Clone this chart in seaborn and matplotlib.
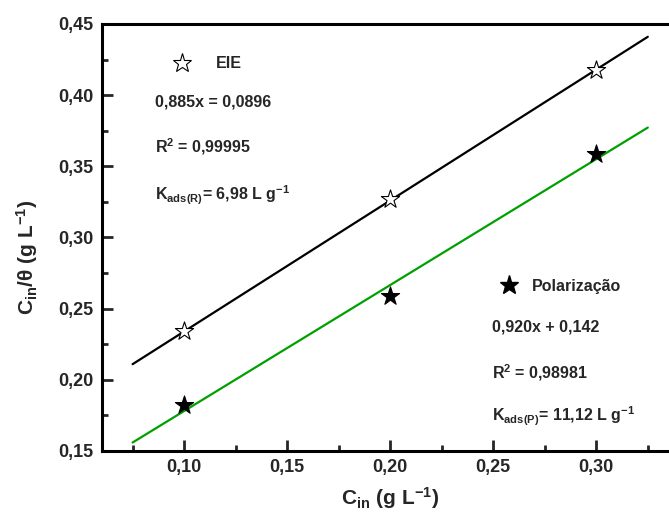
import numpy as np
import pandas as pd
import seaborn as sns
import matplotlib
matplotlib.use("Agg")
import matplotlib.pyplot as plt
from matplotlib.ticker import MultipleLocator, FuncFormatter
from matplotlib.lines import Line2D

# ---- data ----
c_in = [0.10, 0.20, 0.30]
eie_vals = [0.234, 0.327, 0.418]
pol_vals = [0.182, 0.259, 0.359]
fit_x_range = [0.075, 0.325]
eie_fit = (0.920, 0.142)      # slope, intercept (black line)
pol_fit = (0.885, 0.0896)     # slope, intercept (green line)
eie_label = "EIE"
pol_label = "Polarização"
eie_texts = ["0,885x = 0,0896", r"R$^{2}$ = 0,99995", r"K$_{ads(R)}$= 6,98 L g$^{-1}$"]
pol_texts = ["0,920x + 0,142", r"R$^{2}$ = 0,98981", r"K$_{ads(P)}$= 11,12 L g$^{-1}$"]

sns.set_theme(style="ticks")
plt.rcParams['font.family'] = ['Liberation Sans', 'DejaVu Sans']
plt.rcParams['font.weight'] = 'bold'
plt.rcParams['mathtext.fontset'] = 'custom'
plt.rcParams['mathtext.rm'] = 'Liberation Sans:bold'
plt.rcParams['mathtext.bf'] = 'Liberation Sans:bold'
plt.rcParams['mathtext.it'] = 'Liberation Sans:bold'
plt.rcParams['mathtext.sf'] = 'Liberation Sans:bold'
plt.rcParams['mathtext.default'] = 'rm'

W, H = 669, 523
fig = plt.figure(figsize=(W / 100, H / 100), dpi=100)
fig.patch.set_facecolor('white')
ax = fig.add_axes([101.7 / W, (H - 451) / H, (678.7 - 101.7) / W, (451 - 24) / H])
ax.set_facecolor('white')

xs = np.array(fit_x_range)
fit_df = pd.DataFrame({
    'x': np.concatenate([xs, xs]),
    'y': np.concatenate([eie_fit[0] * xs + eie_fit[1], pol_fit[0] * xs + pol_fit[1]]),
    'serie': ['eie'] * 2 + ['pol'] * 2,
})
sns.lineplot(data=fit_df, x='x', y='y', hue='serie', palette={'eie': 'black', 'pol': '#00a000'},
             lw=1.6, legend=False, ax=ax)

eie_df = pd.DataFrame({'x': c_in, 'y': eie_vals})
pol_df = pd.DataFrame({'x': c_in, 'y': pol_vals})
sns.scatterplot(data=eie_df, x='x', y='y', marker='*', s=190, facecolor='white',
                edgecolor='black', linewidth=0.8, ax=ax, zorder=5)
sns.scatterplot(data=pol_df, x='x', y='y', marker='*', s=190, color='black',
                edgecolor='black', linewidth=0.8, ax=ax, zorder=5)

ax.set_xlim(0.06, 0.34)
ax.set_ylim(0.15, 0.45)
ax.xaxis.set_major_locator(MultipleLocator(0.05))
ax.xaxis.set_minor_locator(MultipleLocator(0.025))
ax.yaxis.set_major_locator(MultipleLocator(0.05))
ax.yaxis.set_minor_locator(MultipleLocator(0.025))
fmt = FuncFormatter(lambda v, p: f"{v:.2f}".replace('.', ','))
ax.xaxis.set_major_formatter(fmt)
ax.yaxis.set_major_formatter(fmt)
ax.set_xticks([t for t in np.arange(0.10, 0.31, 0.05)])
ax.tick_params(axis='both', which='major', direction='in', length=8, width=2,
               labelsize=13, pad=6, top=False, right=False)
ax.tick_params(axis='both', which='minor', direction='in', length=4.5, width=2,
               top=False, right=False)
for lab in ax.get_xticklabels() + ax.get_yticklabels():
    lab.set_fontweight('bold')
for sp in ax.spines.values():
    sp.set_linewidth(2.2)
    sp.set_color('black')

ax.set_xlabel(r"C$_{in}$ (g L$^{-1}$)", fontsize=15, fontweight='bold', labelpad=6)
ax.set_ylabel(r"C$_{in}$/θ (g L$^{-1}$)", fontsize=15, fontweight='bold')
ax.yaxis.set_label_coords((40 - 101.7) / 577, (451 - 257) / 427)

# legend-like keys
h_eie = Line2D([], [], marker='*', ls='none', markersize=14, markerfacecolor='white',
               markeredgecolor='black', markeredgewidth=0.8)
h_pol = Line2D([], [], marker='*', ls='none', markersize=14, markerfacecolor='black',
               markeredgecolor='black')
leg1 = ax.legend([h_eie], [eie_label], loc='center left', bbox_to_anchor=(174 / W, 1 - 64 / H),
                 bbox_transform=fig.transFigure, frameon=False, borderpad=0, borderaxespad=0,
                 handlelength=1.0, handletextpad=1.6, prop={'size': 11.5, 'weight': 'bold'})
ax.add_artist(leg1)
leg2 = ax.legend([h_pol], [pol_label], loc='center left', bbox_to_anchor=(501 / W, 1 - 286 / H),
                 bbox_transform=fig.transFigure, frameon=False, borderpad=0, borderaxespad=0,
                 handlelength=1.0, handletextpad=0.95, prop={'size': 11.5, 'weight': 'bold'})

for t, yy in zip(eie_texts, [102, 147, 195]):
    fig.text(155 / W, 1 - yy / H, t, fontsize=11.5, fontweight='bold', va='center', ha='left')
for t, yy in zip(pol_texts, [327, 373, 416]):
    fig.text(492 / W, 1 - yy / H, t, fontsize=11.5, fontweight='bold', va='center', ha='left')

fig.savefig('out.png', dpi=100, facecolor='white')
